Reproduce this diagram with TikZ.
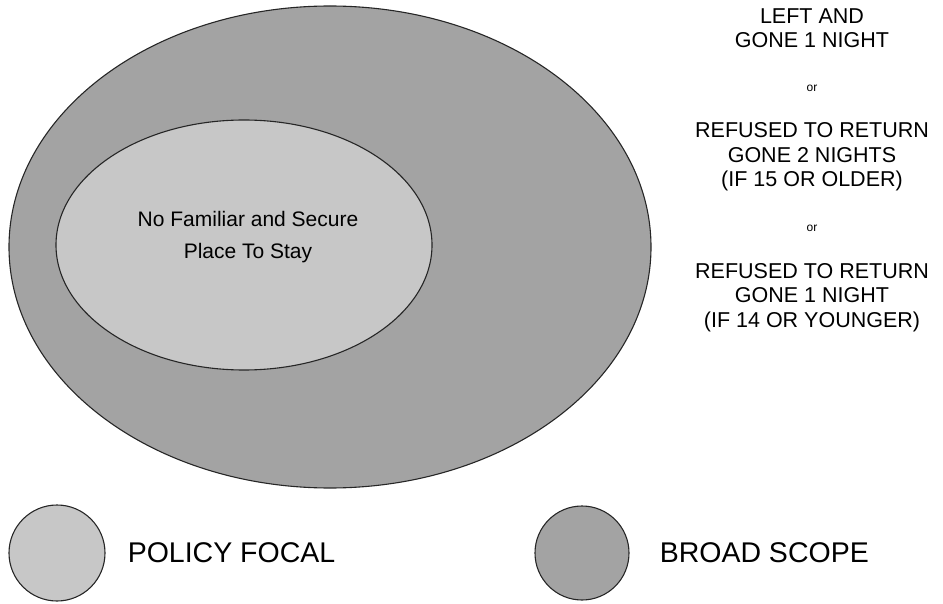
\documentclass[tikz,border=0pt]{standalone}
\usepackage{fontspec}
\setmainfont{Liberation Sans}
\usetikzlibrary{positioning}
\begin{document}
\begin{tikzpicture}[x=1pt,y=-1pt,
  broad/.style={draw=black!85,line width=1.1pt,fill=black!36},
  focal/.style={draw=black!85,line width=1.1pt,fill=black!22},
  rule/.style={font=\fontsize{21.5}{24.5}\selectfont,align=center,anchor=base,inner sep=0pt},
  ortext/.style={font=\fontsize{12}{14}\selectfont,anchor=base,inner sep=0pt},
  keytext/.style={font=\fontsize{28.5}{32}\selectfont,inner sep=0pt}]
\useasboundingbox (0,0) rectangle (943,604);

\coordinate (Broad) at (330,247);
\coordinate (Focal) at (244,245);

\draw [broad] (Broad) ellipse [x radius=321pt, y radius=241pt];
\draw [focal] (Focal) ellipse [x radius=188pt, y radius=125pt];

\node [align=center, font=\fontsize{21}{32}\selectfont, inner sep=0pt] (place) at (248,237) {No Familiar and Secure\\Place To Stay};

% the three ways of being gone (base = last line)
\node [rule] (left) at (812,48) {LEFT AND\\GONE 1 NIGHT};
\node [ortext] (or1) at (812,92) {or};
\node [rule] (older) at (812,187) {REFUSED TO RETURN\\GONE 2 NIGHTS\\(IF 15 OR OLDER)};
\node [ortext] (or2) at (812,232) {or};
\node [rule] (younger) at (812,327) {REFUSED TO RETURN\\GONE 1 NIGHT\\(IF 14 OR YOUNGER)};

% key
\node [focal, circle, minimum size=96pt, inner sep=0pt] (keyfocal) at (57,553) {};
\node [keytext, right=22pt of keyfocal] (policy) {POLICY FOCAL};

\node [broad, circle, minimum size=94pt, inner sep=0pt] (keybroad) at (582,553) {};
\node [keytext, right=30pt of keybroad] (scope) {BROAD SCOPE};

\end{tikzpicture}
\end{document}
